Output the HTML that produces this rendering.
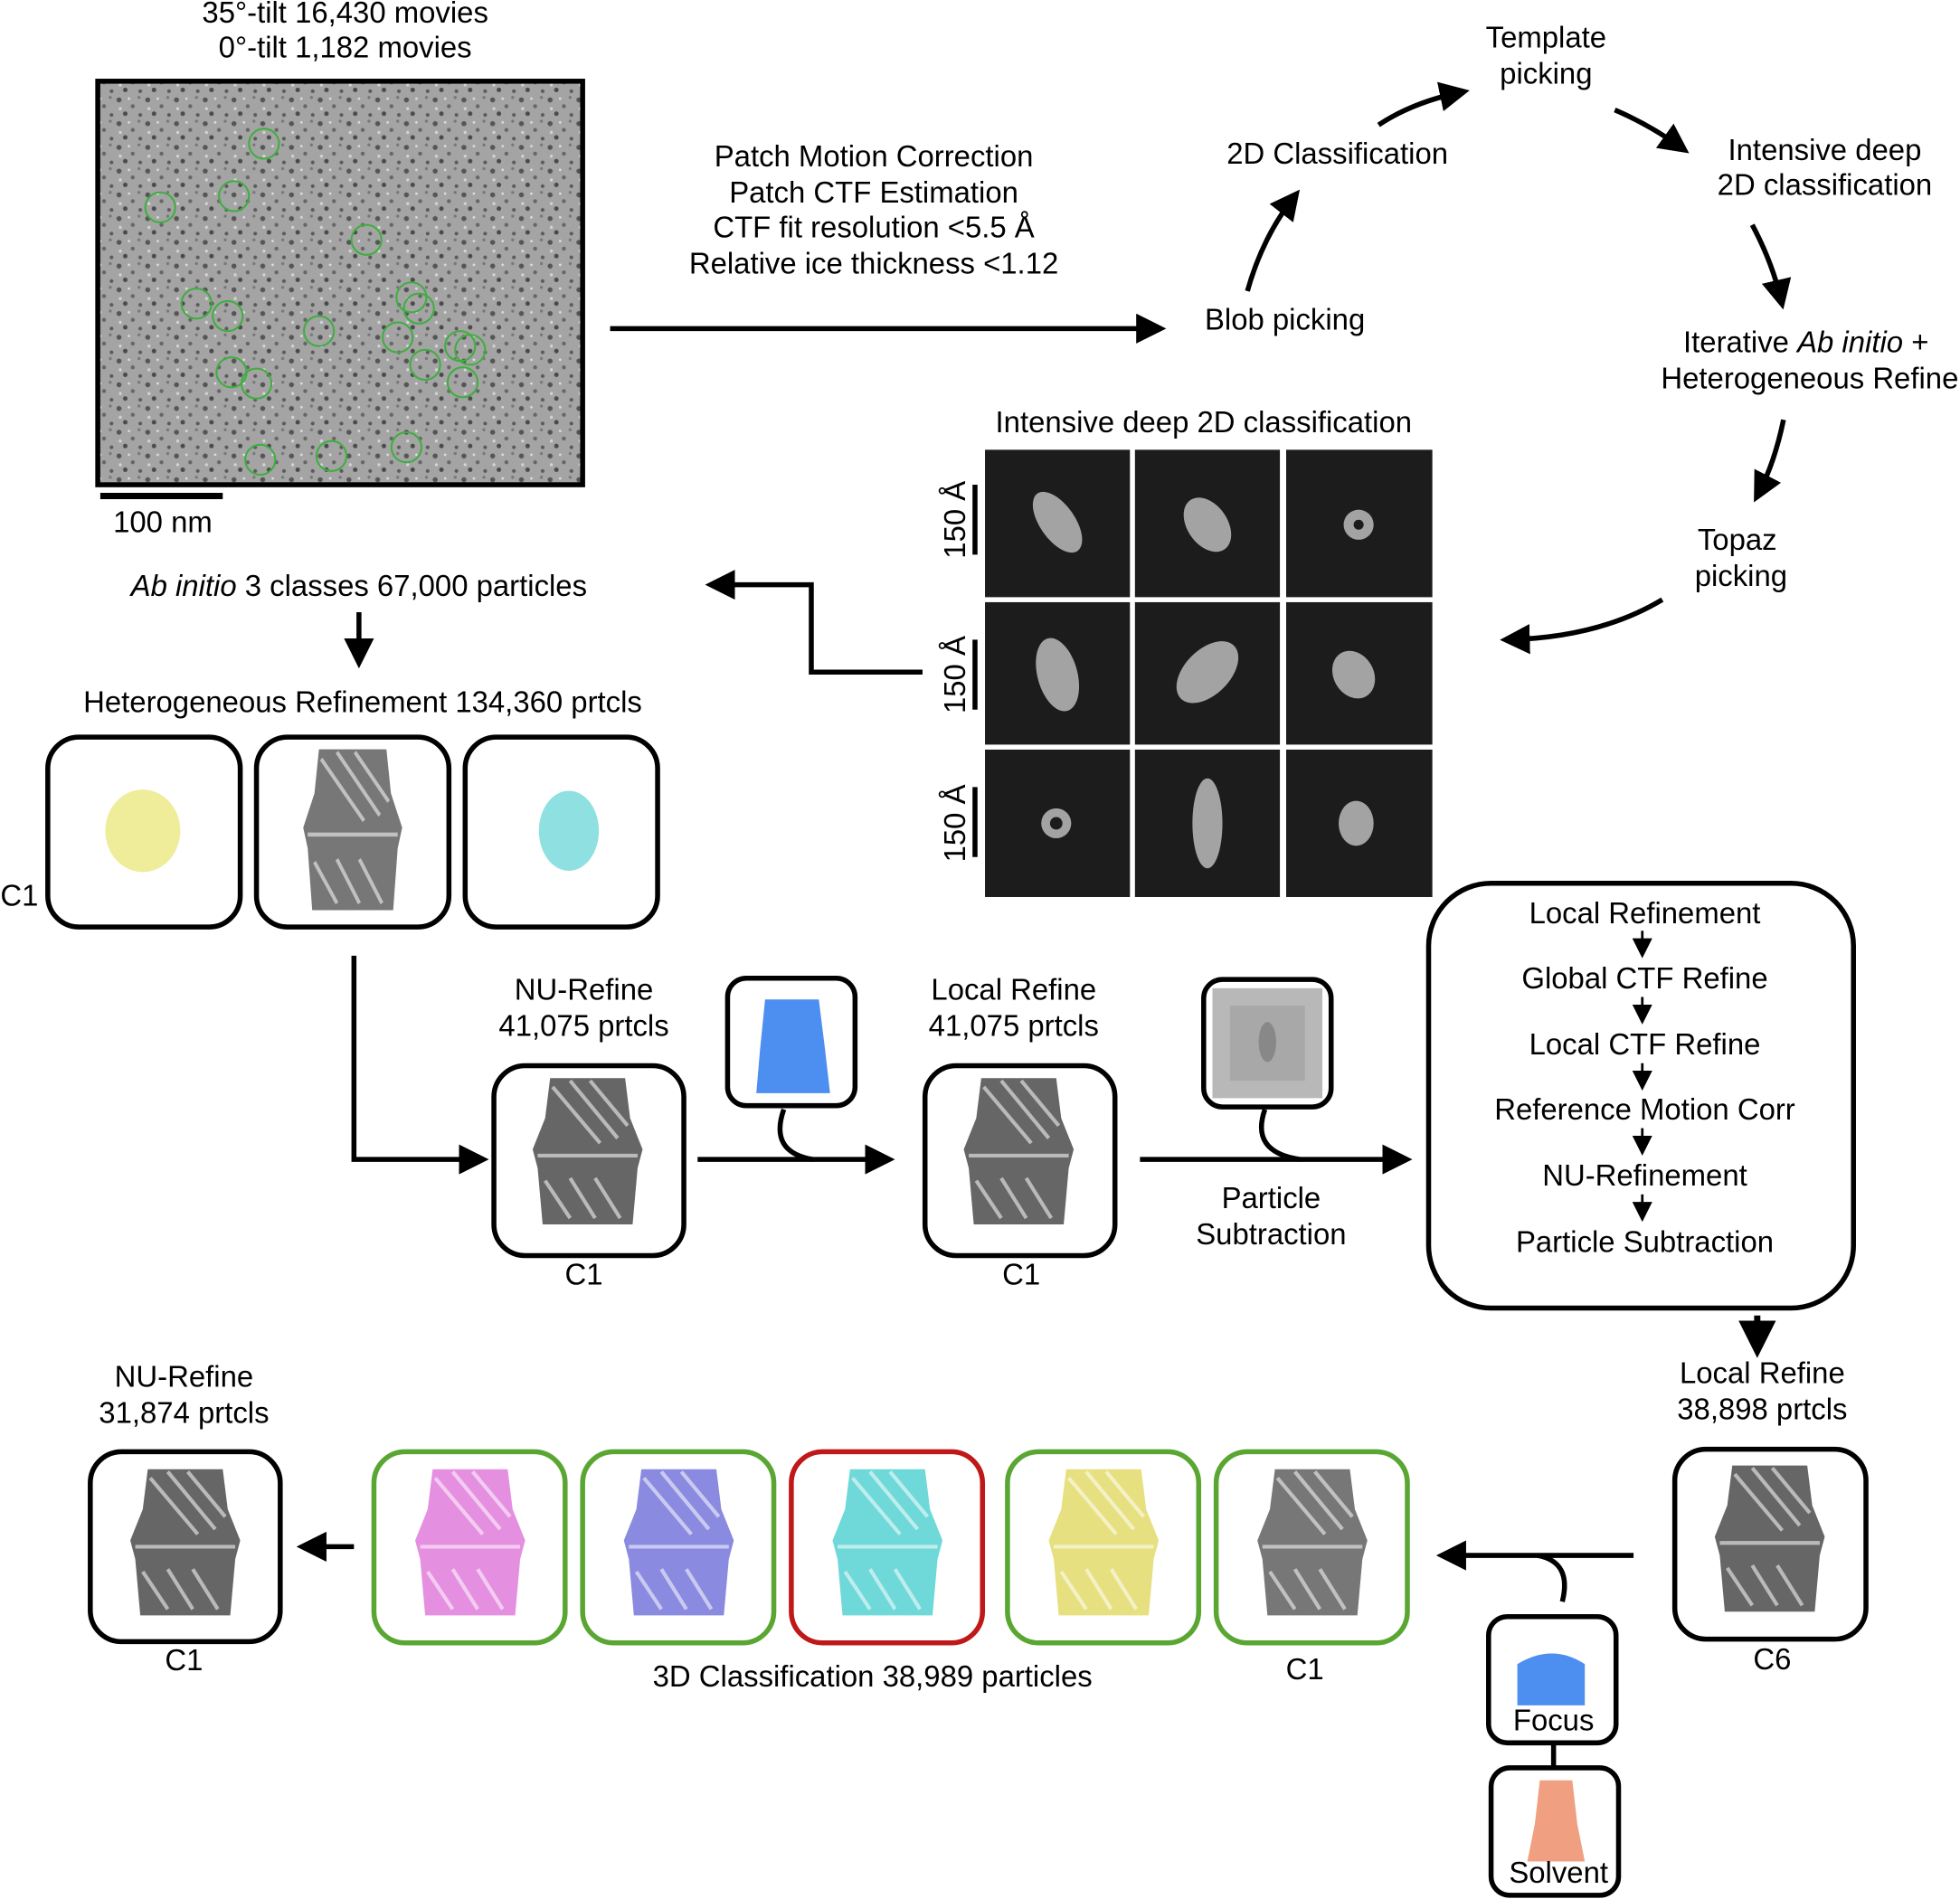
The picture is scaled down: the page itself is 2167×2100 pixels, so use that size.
<!DOCTYPE html>
<html><head><style>
html,body{margin:0;padding:0;background:#fff;}
svg{display:block;}
text{font-family:"Liberation Sans",sans-serif;font-size:23.8px;fill:#000;}
</style></head><body>
<svg width="2167" height="2100" viewBox="0 0 1568 1520" xmlns="http://www.w3.org/2000/svg">
<defs>
<marker id="ah" markerWidth="6" markerHeight="6" refX="4" refY="3" orient="auto" markerUnits="strokeWidth">
<path d="M0,0 L6,3 L0,6 z" fill="#000"/></marker>
<marker id="ahs" markerWidth="8" markerHeight="8" refX="6" refY="4" orient="auto" markerUnits="strokeWidth">
<path d="M0,0 L8,4 L0,8 z" fill="#000"/></marker>
<pattern id="noise" width="23" height="19" patternUnits="userSpaceOnUse">
<rect width="23" height="19" fill="#a4a4a4"/>
<circle cx="3" cy="4" r="2" fill="#555"/><circle cx="14" cy="9" r="1.6" fill="#666"/><circle cx="8" cy="15" r="1.8" fill="#4a4a4a"/>
<circle cx="19" cy="2" r="1.2" fill="#777"/><circle cx="20" cy="16" r="1.5" fill="#5a5a5a"/><circle cx="11" cy="3" r="1" fill="#ddd"/>
<circle cx="4" cy="11" r="1.2" fill="#d4d4d4"/>
</pattern>
<g id="dens">
<path d="M-30,-62 L30,-62 L34,-30 L44,-5 L40,10 L36,55 L-36,55 L-40,10 L-44,-5 L-34,-30 Z"/>
<g stroke="#fff" stroke-width="3" opacity="0.55">
<line x1="-28" y1="-55" x2="10" y2="-10"/><line x1="-14" y1="-60" x2="24" y2="-14"/><line x1="2" y1="-60" x2="32" y2="-24"/>
<line x1="-40" y1="0" x2="40" y2="0"/><line x1="-34" y1="20" x2="-14" y2="50"/><line x1="-14" y1="18" x2="6" y2="50"/><line x1="6" y1="18" x2="26" y2="50"/>
</g>
</g>
</defs>

<text x="276" y="18" text-anchor="middle">35°-tilt 16,430 movies</text>
<text x="276" y="46" text-anchor="middle">0°-tilt 1,182 movies</text>
<rect x="78" y="65" width="388" height="323" fill="url(#noise)" stroke="#000" stroke-width="4"/>
<g fill="none" stroke="#3fae3f" stroke-width="1.5">
<circle cx="211" cy="115" r="12"/><circle cx="128" cy="166" r="12"/><circle cx="187" cy="157" r="12"/><circle cx="293" cy="192" r="12"/>
<circle cx="157" cy="243" r="12"/><circle cx="182" cy="253" r="12"/><circle cx="255" cy="265" r="12"/><circle cx="329" cy="238" r="12"/>
<circle cx="335" cy="247" r="12"/><circle cx="318" cy="270" r="12"/><circle cx="340" cy="292" r="12"/><circle cx="368" cy="277" r="12"/>
<circle cx="376" cy="280" r="12"/><circle cx="370" cy="306" r="12"/><circle cx="185" cy="298" r="12"/><circle cx="205" cy="307" r="12"/>
<circle cx="208" cy="368" r="12"/><circle cx="265" cy="365" r="12"/><circle cx="325" cy="358" r="12"/>
</g>
<line x1="80" y1="397" x2="178" y2="397" stroke="#000" stroke-width="5"/>
<text x="130" y="426" text-anchor="middle">100 nm</text>

<line x1="488" y1="263" x2="925" y2="263" stroke="#000" stroke-width="4" marker-end="url(#ah)"/>
<text x="699" y="133" text-anchor="middle">Patch Motion Correction</text>
<text x="699" y="162" text-anchor="middle">Patch CTF Estimation</text>
<text x="699" y="190" text-anchor="middle">CTF fit resolution &lt;5.5 Å</text>
<text x="699" y="219" text-anchor="middle">Relative ice thickness &lt;1.12</text>

<text x="1237" y="38" text-anchor="middle">Template</text>
<text x="1237" y="67" text-anchor="middle">picking</text>
<text x="1070" y="131" text-anchor="middle">2D Classification</text>
<text x="1460" y="128" text-anchor="middle">Intensive deep</text>
<text x="1460" y="156" text-anchor="middle">2D classification</text>
<text x="1028" y="264" text-anchor="middle">Blob picking</text>
<text x="1445" y="282" text-anchor="middle">Iterative <tspan font-style="italic">Ab initio</tspan> +</text>
<text x="1448" y="311" text-anchor="middle">Heterogeneous Refine</text>
<text x="1390" y="440" text-anchor="middle">Topaz</text>
<text x="1393" y="469" text-anchor="middle">picking</text>
<g fill="none" stroke="#000" stroke-width="4">
<path d="M998,233 Q1010,190 1035,158" marker-end="url(#ah)"/>
<path d="M1103,100 Q1130,82 1168,74" marker-end="url(#ah)"/>
<path d="M1292,88 Q1320,100 1345,118" marker-end="url(#ah)"/>
<path d="M1402,180 Q1418,210 1425,240" marker-end="url(#ah)"/>
<path d="M1427,336 Q1420,370 1407,395" marker-end="url(#ah)"/>
<path d="M1330,480 Q1280,510 1208,512" marker-end="url(#ah)"/>
</g>

<text x="963" y="346" text-anchor="middle">Intensive deep 2D classification</text>
<rect x="788" y="360" width="358" height="358" fill="#fff"/>
<g fill="#1c1c1c">
<rect x="788" y="360" width="116" height="118"/><rect x="908" y="360" width="116" height="118"/><rect x="1029" y="360" width="117" height="118"/>
<rect x="788" y="482" width="116" height="114"/><rect x="908" y="482" width="116" height="114"/><rect x="1029" y="482" width="117" height="114"/>
<rect x="788" y="600" width="116" height="118"/><rect x="908" y="600" width="116" height="118"/><rect x="1029" y="600" width="117" height="118"/>
</g>
<g fill="#bbb" opacity="0.85">
<ellipse cx="846" cy="418" rx="14" ry="28" transform="rotate(-35 846 418)"/>
<ellipse cx="966" cy="420" rx="16" ry="24" transform="rotate(-35 966 420)"/>
<circle cx="1087" cy="420" r="12"/>
<ellipse cx="846" cy="540" rx="16" ry="30" transform="rotate(-15 846 540)"/>
<ellipse cx="966" cy="538" rx="18" ry="30" transform="rotate(45 966 538)"/>
<ellipse cx="1083" cy="540" rx="16" ry="20" transform="rotate(-30 1083 540)"/>
<circle cx="845" cy="659" r="12"/>
<ellipse cx="966" cy="659" rx="12" ry="36"/>
<ellipse cx="1085" cy="659" rx="14" ry="18"/>
</g>
<g fill="#1c1c1c"><circle cx="1087" cy="420" r="4"/><circle cx="845" cy="659" r="5"/></g>
<g stroke="#000" stroke-width="4"><line x1="780" y1="388" x2="780" y2="444"/><line x1="780" y1="512" x2="780" y2="568"/><line x1="780" y1="630" x2="780" y2="686"/></g>
<text transform="translate(772,416) rotate(-90)" text-anchor="middle">150 Å</text>
<text transform="translate(772,540) rotate(-90)" text-anchor="middle">150 Å</text>
<text transform="translate(772,659) rotate(-90)" text-anchor="middle">150 Å</text>

<polyline points="738,538 649,538 649,468 572,468" fill="none" stroke="#000" stroke-width="4" marker-end="url(#ah)"/>
<text x="287" y="477" text-anchor="middle"><tspan font-style="italic">Ab initio</tspan> 3 classes 67,000 particles</text>
<line x1="287" y1="490" x2="287" y2="527" stroke="#000" stroke-width="4" marker-end="url(#ah)"/>
<text x="290" y="570" text-anchor="middle">Heterogeneous Refinement 134,360 prtcls</text>

<g fill="#fff" stroke="#000" stroke-width="4">
<rect x="38" y="590" width="154" height="152" rx="25"/><rect x="205" y="590" width="154" height="152" rx="25"/><rect x="372" y="590" width="154" height="152" rx="25"/>
</g>
<ellipse cx="114" cy="665" rx="30" ry="33" fill="#efec9a"/>
<use href="#dens" transform="translate(282,668) scale(0.9,1.1)" fill="#777"/>
<ellipse cx="455" cy="665" rx="24" ry="32" fill="#8fe0e0"/>
<text x="0" y="725">C1</text>

<polyline points="283,765 283,928 383,928" fill="none" stroke="#000" stroke-width="4" marker-end="url(#ah)"/>
<text x="467" y="800" text-anchor="middle">NU-Refine</text>
<text x="467" y="829" text-anchor="middle">41,075 prtcls</text>
<rect x="395" y="853" width="152" height="152" rx="25" fill="#fff" stroke="#000" stroke-width="4"/>
<use href="#dens" transform="translate(470,925)" fill="#666"/>
<text x="467" y="1028" text-anchor="middle">C1</text>

<line x1="558" y1="928" x2="708" y2="928" stroke="#000" stroke-width="4" marker-end="url(#ah)"/>
<path d="M627,888 Q615,922 650,928" fill="none" stroke="#000" stroke-width="4"/>
<rect x="582" y="783" width="102" height="102" rx="15" fill="#fff" stroke="#000" stroke-width="4"/>
<path d="M612,800 L655,800 L660,840 L664,875 L605,875 L608,840 Z" fill="#4d8ff0"/>

<text x="811" y="800" text-anchor="middle">Local Refine</text>
<text x="811" y="829" text-anchor="middle">41,075 prtcls</text>
<rect x="740" y="853" width="152" height="152" rx="25" fill="#fff" stroke="#000" stroke-width="4"/>
<use href="#dens" transform="translate(815,925)" fill="#666"/>
<text x="817" y="1028" text-anchor="middle">C1</text>

<line x1="912" y1="928" x2="1122" y2="928" stroke="#000" stroke-width="4" marker-end="url(#ah)"/>
<path d="M1012,888 Q1000,922 1040,928" fill="none" stroke="#000" stroke-width="4"/>
<rect x="963" y="784" width="102" height="102" rx="15" fill="#fff" stroke="#000" stroke-width="4"/>
<rect x="970" y="791" width="88" height="88" fill="#b8b8b8"/>
<rect x="984" y="805" width="60" height="60" fill="#a8a8a8"/>
<ellipse cx="1014" cy="834" rx="7" ry="16" fill="#888"/>
<text x="1017" y="967" text-anchor="middle">Particle</text>
<text x="1017" y="996" text-anchor="middle">Subtraction</text>

<rect x="1143" y="707" width="340" height="340" rx="50" fill="#fff" stroke="#000" stroke-width="4"/>
<g text-anchor="middle">
<text x="1316" y="739">Local Refinement</text>
<text x="1316" y="791">Global CTF Refine</text>
<text x="1316" y="844">Local CTF Refine</text>
<text x="1316" y="896">Reference Motion Corr</text>
<text x="1316" y="949">NU-Refinement</text>
<text x="1316" y="1002">Particle Subtraction</text>
</g>
<g stroke="#000" stroke-width="2" marker-end="url(#ahs)">
<line x1="1314" y1="745" x2="1314" y2="763"/><line x1="1314" y1="798" x2="1314" y2="816"/><line x1="1314" y1="851" x2="1314" y2="869"/>
<line x1="1314" y1="903" x2="1314" y2="921"/><line x1="1314" y1="956" x2="1314" y2="974"/>
</g>
<line x1="1406" y1="1053" x2="1406" y2="1077" stroke="#000" stroke-width="5" marker-end="url(#ah)"/>
<text x="1410" y="1107" text-anchor="middle">Local Refine</text>
<text x="1410" y="1136" text-anchor="middle">38,898 prtcls</text>
<rect x="1340" y="1160" width="153" height="152" rx="25" fill="#fff" stroke="#000" stroke-width="4"/>
<use href="#dens" transform="translate(1416,1235)" fill="#666"/>
<text x="1418" y="1336" text-anchor="middle">C6</text>

<line x1="1307" y1="1245" x2="1157" y2="1245" stroke="#000" stroke-width="4" marker-end="url(#ah)"/>
<path d="M1250,1282 Q1258,1250 1230,1245" fill="none" stroke="#000" stroke-width="4"/>
<rect x="1191" y="1294" width="102" height="101" rx="15" fill="#fff" stroke="#000" stroke-width="4"/>
<path d="M1214,1332 Q1242,1315 1268,1332 L1268,1365 L1214,1365 Z" fill="#4d8ff0"/>
<text x="1243" y="1385" text-anchor="middle">Focus</text>
<line x1="1243" y1="1395" x2="1243" y2="1415" stroke="#000" stroke-width="4"/>
<rect x="1193" y="1415" width="102" height="102" rx="15" fill="#fff" stroke="#000" stroke-width="4"/>
<path d="M1232,1425 L1258,1425 L1262,1460 L1268,1490 L1222,1490 L1228,1460 Z" fill="#f0a080"/>
<text x="1247" y="1507" text-anchor="middle">Solvent</text>

<g fill="#fff" stroke-width="4">
<rect x="299" y="1162" width="153" height="153" rx="25" stroke="#5aa632"/>
<rect x="466" y="1162" width="153" height="153" rx="25" stroke="#5aa632"/>
<rect x="633" y="1162" width="153" height="153" rx="25" stroke="#c01818"/>
<rect x="806" y="1162" width="153" height="153" rx="25" stroke="#5aa632"/>
<rect x="973" y="1162" width="153" height="153" rx="25" stroke="#5aa632"/>
</g>
<use href="#dens" transform="translate(376,1238)" fill="#e58fe0"/>
<use href="#dens" transform="translate(543,1238)" fill="#8a8ae0"/>
<use href="#dens" transform="translate(710,1238)" fill="#6fd8d8"/>
<use href="#dens" transform="translate(883,1238)" fill="#e6e080"/>
<use href="#dens" transform="translate(1050,1238)" fill="#777"/>
<text x="1044" y="1344" text-anchor="middle">C1</text>
<text x="698" y="1350" text-anchor="middle">3D Classification 38,989 particles</text>

<line x1="283" y1="1238" x2="245" y2="1238" stroke="#000" stroke-width="4" marker-end="url(#ah)"/>
<text x="147" y="1110" text-anchor="middle">NU-Refine</text>
<text x="147" y="1139" text-anchor="middle">31,874 prtcls</text>
<rect x="72" y="1162" width="152" height="152" rx="25" fill="#fff" stroke="#000" stroke-width="4"/>
<use href="#dens" transform="translate(148,1238)" fill="#666"/>
<text x="147" y="1337" text-anchor="middle">C1</text>
</svg>
</body></html>
